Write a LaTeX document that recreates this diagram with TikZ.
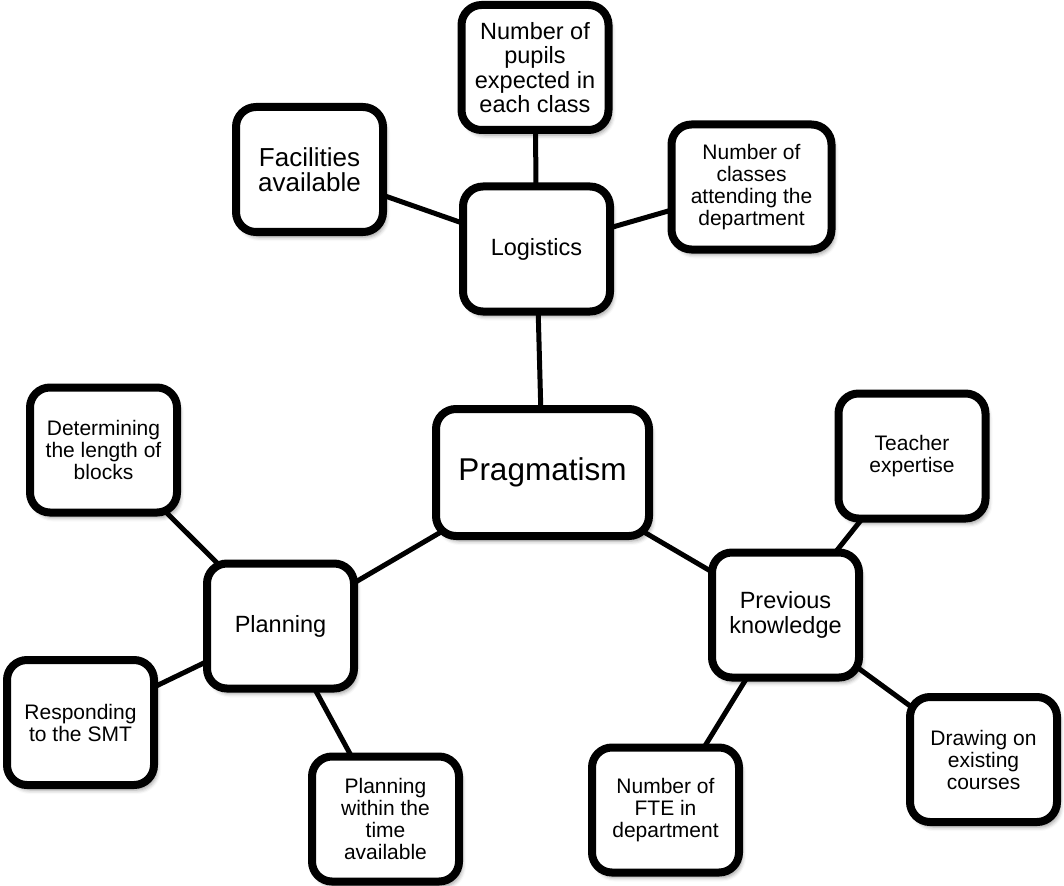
\documentclass[tikz,border=0pt]{standalone}
\usepackage{fontspec}
\setmainfont{Liberation Sans}
\usetikzlibrary{shadows.blur}
\pgfdeclarelayer{bg}
\pgfsetlayers{bg,main}
\tikzset{
  box/.style={draw=black, line width=8pt, rounded corners=20pt, fill=white,
    align=center, inner sep=0pt, minimum width=147pt, minimum height=125pt,
    blur shadow={shadow xshift=3pt, shadow yshift=-5pt,
      shadow blur radius=4pt, shadow opacity=40}},
  link/.style={draw=black, line width=5pt},
  smalltext/.style={font=\fontsize{21}{22}\selectfont},
  midtext/.style={font=\fontsize{23.5}{24.5}\selectfont},
  largetext/.style={font=\fontsize{26}{25}\selectfont},
  hugetext/.style={font=\fontsize{31.5}{33}\selectfont},
}
\begin{document}
\begin{tikzpicture}[x=1pt,y=-1pt]
\useasboundingbox (0,0) rectangle (1064,885);

% top cluster
\node[box,midtext] (pupils) at (535,67.5) {Number of\\pupils\\expected in\\each class};
\node[box,largetext] (facil) at (309.5,169.5) {Facilities\\available};
\node[box,smalltext,minimum width=160pt] (classes) at (751.5,187) {Number of\\classes\\attending the\\department};
\node[box,midtext] (logi) at (536.5,249) {Logistics};

% centre
\node[box,hugetext,minimum width=213pt,minimum height=127pt] (prag) at (542.5,472.5) {Pragmatism};

% left cluster
\node[box,smalltext] (determ) at (103.5,450) {Determining\\the length of\\blocks};
\node[box,midtext] (plan) at (280.5,626) {Planning};
\node[box,smalltext] (respond) at (80.5,722.5) {Responding\\to the SMT};
\node[box,smalltext] (within) at (385.5,819) {Planning\\within the\\time\\available};

% right cluster
\node[box,smalltext] (teacher) at (912,456) {Teacher\\expertise};
\node[box,midtext] (prev) at (785.5,615) {Previous\\knowledge};
\node[box,smalltext] (drawing) at (983.5,759.5) {Drawing on\\existing\\courses};
\node[box,smalltext] (fte) at (665.5,810) {Number of\\FTE in\\department};

\begin{pgfonlayer}{bg}
  \draw[link] (logi.center) -- (pupils.center);
  \draw[link] (logi.center) -- (facil.center);
  \draw[link] (logi.center) -- (classes.center);
  \draw[link] (prag.center) -- (logi.center);
  \draw[link] (prag.center) -- (plan.center);
  \draw[link] (prag.center) -- (prev.center);
  \draw[link] (plan.center) -- (determ.center);
  \draw[link] (plan.center) -- (respond.center);
  \draw[link] (plan.center) -- (within.center);
  \draw[link] (prev.center) -- (teacher.center);
  \draw[link] (prev.center) -- (drawing.center);
  \draw[link] (prev.center) -- (fte.center);
\end{pgfonlayer}
\end{tikzpicture}
\end{document}
